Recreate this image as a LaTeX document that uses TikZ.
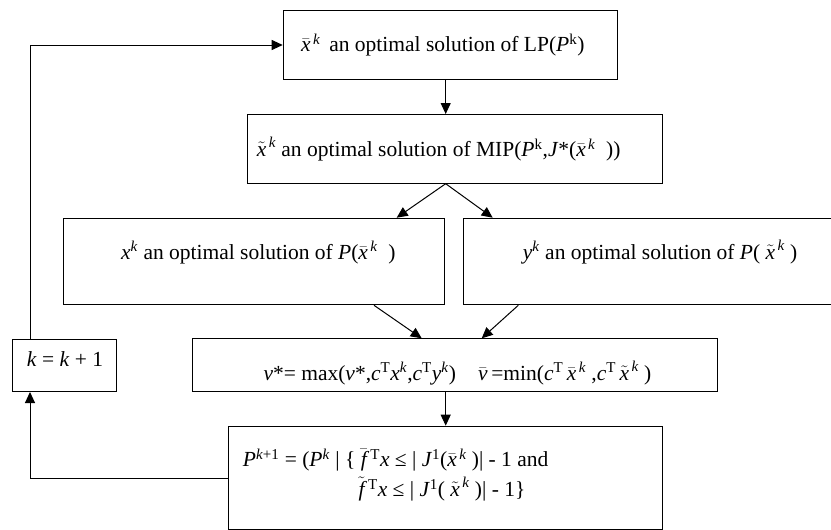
\documentclass[tikz,border=0pt]{standalone}
\usepackage{amsmath}
\usepackage{fontspec}
\setmainfont{Liberation Serif}
\usetikzlibrary{arrows.meta}
\newcommand{\ivar}[1]{\textit{#1}}
\newcommand{\sk}{\textsuperscript{\textit{k}}}
\newcommand{\xbar}{$\bar{\textit{x}}^{\,\textit{k}}$}
\newcommand{\xtil}{$\tilde{\textit{x}}^{\,\textit{k}}$}
\begin{document}
\begin{tikzpicture}[x=1pt,y=-1pt,
  box/.style={draw,line width=1pt,rectangle,inner sep=0pt,anchor=north west},
  txt/.style={anchor=base west,inner sep=0pt,font=\fontsize{21.5}{26}\selectfont},
  arr/.style={line width=1pt,-{Triangle[length=11pt,width=10pt]}}]
\useasboundingbox (0,0) rectangle (831,530);
% boxes
\node[box,minimum width=334.3pt,minimum height=69pt] (b1) at (282.7,10) {};
\node[box,minimum width=415.6pt,minimum height=68.7pt] (b2) at (246.7,114) {};
\node[box,minimum width=381pt,minimum height=86.6pt] (b3) at (63.3,217.7) {};
\node[box,minimum width=372pt,minimum height=86.6pt] (b4) at (463.3,217.7) {};
\node[box,minimum width=524.4pt,minimum height=52.7pt] (b5) at (192.3,338.3) {};
\node[box,minimum width=104pt,minimum height=52pt] (bk) at (11.7,339) {};
\node[box,minimum width=434pt,minimum height=103.6pt] (b6) at (228.3,425.7) {};
% texts
\node[txt] (t1) at (301,51.7) {\xbar{}\, an optimal solution of LP(\ivar{P}\textsuperscript{k})};
\node[txt] (t2) at (256.7,156.7) {\xtil{} an optimal solution of MIP(\ivar{P}\textsuperscript{k},\ivar{J}*(\xbar\enspace))};
\node[txt] (t3) at (121,259) {\ivar{x}\sk{} an optimal solution of \ivar{P}(\xbar\enspace)};
\node[txt] (t4) at (522.7,259.5) {\ivar{y}\sk{} an optimal solution of \ivar{P}( \xtil{} )};
\node[txt] (t5a) at (263.3,380) {\ivar{v}*= max(\ivar{v}*,\ivar{c}\textsuperscript{T}\ivar{x}\sk,\ivar{c}\textsuperscript{T}\ivar{y}\sk)};
\node[txt] (t5b) at (478,380) {$\bar{\textit{v}}$\,=min(\ivar{c}\textsuperscript{T}\,\xbar{} ,\ivar{c}\textsuperscript{T}\,\xtil{} )};
\node[txt] (tk) at (26.7,366.7) {\ivar{k} = \ivar{k} + 1};
\node[txt] (t6a) at (242.7,466.7) {\ivar{P}\textsuperscript{\textit{k}+1} = (\ivar{P}\sk{} | \{ $\bar{\textit{f}}$\,\textsuperscript{T}\ivar{x} ≤ | \ivar{J}\textsuperscript{1}(\xbar{} )| - 1 and};
\node[txt] (t6b) at (358.3,496.7) {$\tilde{\textit{f}}$\,\textsuperscript{T}\ivar{x} ≤ | \ivar{J}\textsuperscript{1}( \xtil{} )| - 1\}};
% connector helpers
\coordinate (cm) at (445.7,0);
\coordinate (cl) at (30,0);
\coordinate (c3) at (396.7,0);
\coordinate (c4) at (492.7,0);
\coordinate (c3s) at (374,0);
\coordinate (c4s) at (518.3,0);
\coordinate (c5a) at (421.7,0);
\coordinate (c5b) at (481.7,0);
\draw[arr] (b1.south -| cm) -- (b2.north -| cm);
\draw[arr] (b2.south -| cm) -- (b3.north -| c3);
\draw[arr] (b2.south -| cm) -- (b4.north -| c4);
\draw[arr] (b3.south -| c3s) -- (b5.north -| c5a);
\draw[arr] (b4.south -| c4s) -- (b5.north -| c5b);
\draw[arr] (b5.south -| cm) -- (b6.north -| cm);
\draw[arr] (b6.west) -| (bk.south -| cl);
\draw[arr] (bk.north -| cl) |- (b1.west);
\end{tikzpicture}
\end{document}
